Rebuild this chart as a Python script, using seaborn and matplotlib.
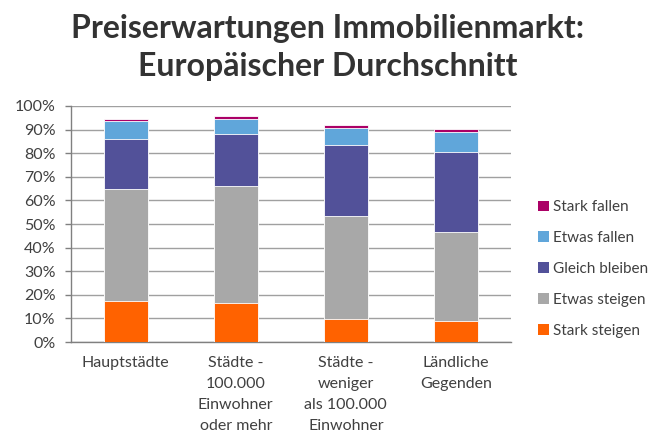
import numpy as np
import pandas as pd
import matplotlib
matplotlib.use("Agg")
import matplotlib.pyplot as plt
import seaborn as sns
from matplotlib.patches import Patch

# data (share of respondents, %)
categories = ["Hauptstädte",
              "Städte -\n100.000\nEinwohner\noder mehr",
              "Städte -\nweniger\nals 100.000\nEinwohner",
              "Ländliche\nGegenden"]
stark_steigen = [17.3, 16.6, 9.7, 9.0]
etwas_steigen = [47.6, 49.3, 43.5, 37.5]
gleich_bleiben = [21.1, 22.1, 30.4, 33.9]
etwas_fallen = [7.8, 6.6, 7.2, 8.6]
stark_fallen = [0.6, 1.0, 1.2, 1.3]

series_names = ["Stark steigen", "Etwas steigen", "Gleich bleiben", "Etwas fallen", "Stark fallen"]
series_values = [stark_steigen, etwas_steigen, gleich_bleiben, etwas_fallen, stark_fallen]
colors = ["#FF6200", "#A8A8A8", "#525199", "#60A6DA", "#AB0066"]

text_color = "#404040"
font = ["Lato", "DejaVu Sans"]


def build_frame():
    df = pd.DataFrame({"Kategorie": categories})
    for name, vals in zip(series_names, series_values):
        df[name] = np.array(vals) / 100.0
    return df


def plot_chart(df):
    sns.set_style("white")
    plt.rcParams["font.family"] = font

    fig = plt.figure(figsize=(6.55, 4.38), dpi=100)
    ax = fig.add_axes([0.108, 0.219, 0.672, 0.539])

    # stacked bars: draw cumulative totals from the top down
    cumulative = df[series_names].cumsum(axis=1)
    for name, color in reversed(list(zip(series_names, colors))):
        sns.barplot(data=cumulative.assign(Kategorie=df["Kategorie"]),
                    x="Kategorie", y=name, color=color,
                    width=0.4, edgecolor="white", linewidth=0.6,
                    saturation=1, ax=ax, zorder=3)

    ax.set_ylim(0, 1)
    ax.set_xlim(-0.5, len(categories) - 0.5)
    ax.set_yticks(np.arange(0, 1.01, 0.1))
    ax.set_yticklabels([f"{int(round(v * 100))}%" for v in np.arange(0, 1.01, 0.1)])
    ax.set_xticks(range(len(categories)), categories, linespacing=1.65, va="top")
    ax.yaxis.grid(True, color="#A0A0A0", linewidth=1.0, zorder=0)
    ax.set_axisbelow(True)
    ax.set_xlabel("")
    ax.set_ylabel("")

    for side in ["top", "right"]:
        ax.spines[side].set_visible(False)
    for side in ["left", "bottom"]:
        ax.spines[side].set_color("#808080")
        ax.spines[side].set_linewidth(1.0)

    ax.tick_params(axis="y", length=4, width=1, color="#808080",
                   labelsize=11.5, labelcolor=text_color, pad=7, left=True)
    ax.tick_params(axis="x", length=0, labelsize=11.5, labelcolor=text_color, pad=10)

    handles = [Patch(facecolor=c, edgecolor="none") for c in reversed(colors)]
    ax.legend(handles, list(reversed(series_names)), loc="center left",
              bbox_to_anchor=(1.03, 0.31), frameon=False, fontsize=11,
              handlelength=0.7, handleheight=0.7, handletextpad=0.3,
              labelspacing=1.1, labelcolor=text_color)

    fig.text(0.5, 0.968, "Preiserwartungen Immobilienmarkt:\nEuropäischer Durchschnitt",
             ha="center", va="top", fontsize=23, fontweight="bold",
             color="#333333", linespacing=1.38)

    fig.savefig("out.png", dpi=100)
    plt.close(fig)


if __name__ == "__main__":
    plot_chart(build_frame())
